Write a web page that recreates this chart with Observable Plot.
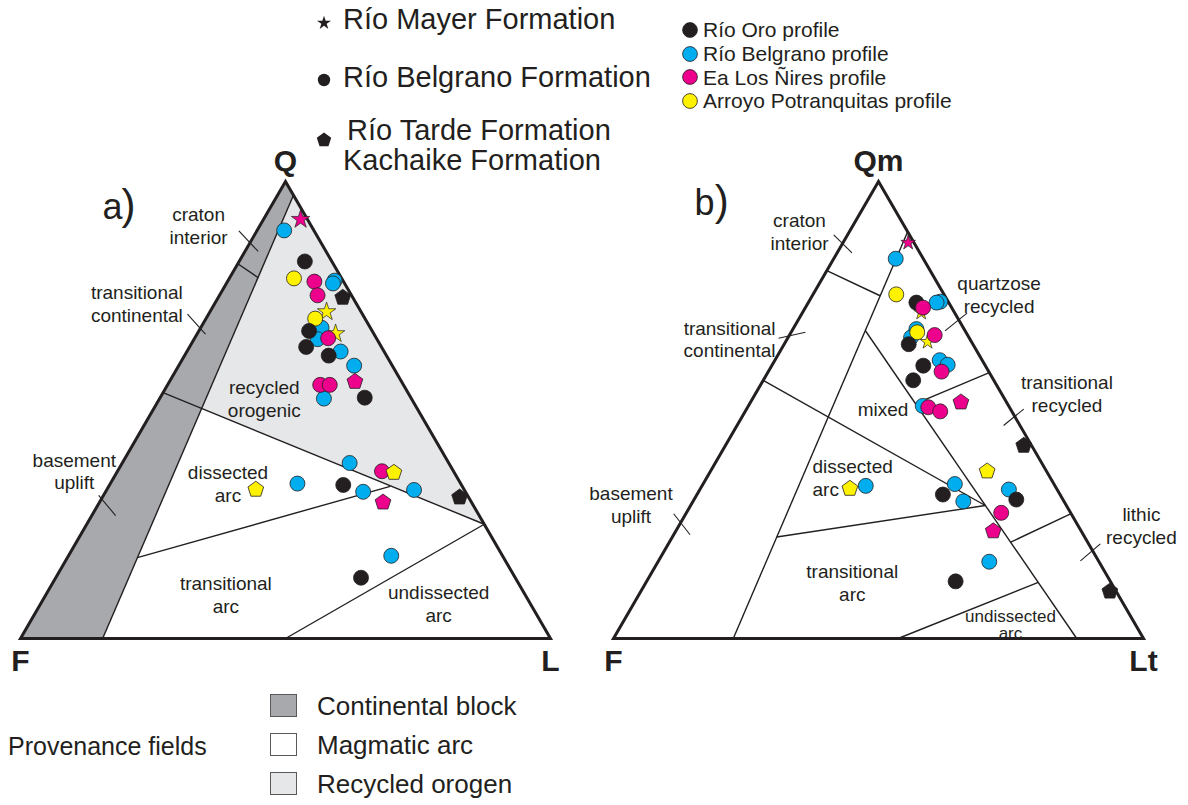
<!DOCTYPE html>
<html>
<head>
<meta charset="utf-8">
<script src="https://cdn.jsdelivr.net/npm/d3@7"></script>
<script src="https://cdn.jsdelivr.net/npm/@observablehq/plot@0.6"></script>
<style>
  html,body{margin:0;padding:0;background:#fff;}
  #fig{position:relative;width:1188px;height:805px;overflow:hidden;font-family:"Liberation Sans",Arial,Helvetica,sans-serif;color:#231f20;}
  #fig > svg{position:absolute;left:0;top:0;}
  .lg{position:absolute;white-space:pre;}
  .sym{position:absolute;overflow:visible;}
</style>
</head>
<body>
<div id="fig"></div>
<script>
// ---------------- data ----------------
const profiles = ["Río Oro profile", "Río Belgrano profile", "Ea Los Ñires profile", "Arroyo Potranquitas profile"];
const profileColors = ["#231f20", "#00aeef", "#ec008c", "#fff200"];
const formations = ["Río Mayer Formation", "Río Belgrano Formation", "Río Tarde Formation\nKachaike Formation"];
const formationSymbols = ["star", "circle", "pentagon"];
const provenanceFields = ["Continental block", "Magmatic arc", "Recycled orogen"];
const provenanceColors = ["#a7a9ac", "#ffffff", "#e6e7e8"];

// samples: [profile index, formation index, Q, F, L] in percent
const qflSamples = [
  [2,0,91.7,1.3,7.0],[1,1,89.3,5.6,5.1],[0,1,82.5,5.1,12.4],[3,1,78.8,9.0,12.2],
  [2,1,78.1,5.5,16.4],[1,1,78.3,1.6,20.1],[1,1,77.7,2.2,20.1],[2,1,75.1,6.4,18.5],
  [0,2,74.6,1.9,23.5],[3,0,71.5,6.5,22.0],[3,1,70.0,9.4,20.6],[3,0,66.7,7.2,26.1],
  [1,1,68.0,9.2,22.8],[0,1,67.3,11.9,20.8],[1,1,65.5,11.2,23.3],[2,1,65.7,9.1,25.2],
  [0,1,63.8,14.2,22.0],[1,1,62.8,8.2,29.0],[0,1,61.9,10.9,27.2],[1,1,59.7,7.2,33.1],
  [2,1,55.5,15.7,28.8],[2,1,55.5,13.9,30.6],[1,1,52.5,16.5,31.0],[2,2,56.2,8.8,35.0],
  [0,1,52.7,8.7,38.6],[1,1,38.4,18.7,42.9],[2,1,36.6,13.5,49.9],[3,2,36.3,11.4,52.3],
  [1,1,33.9,30.8,35.3],[0,1,33.6,22.3,44.1],[1,1,32.1,19.3,48.6],[2,2,29.8,16.7,53.5],
  [1,1,32.5,9.5,58.0],[0,2,30.9,1.7,67.4],[1,1,18.1,21.0,60.9],[0,1,13.3,29.1,57.6],
  [3,2,32.6,39.3,28.1]
];
// samples: [profile index, formation index, Qm, F, Lt] in percent
const qmfltSamples = [
  [2,0,86.6,1.1,12.3],[1,1,83.1,5.2,11.7],[3,1,75.3,9.0,15.7],[0,1,73.5,6.1,20.4],
  [1,1,73.7,1.5,24.8],[1,1,73.5,2.3,24.2],[2,1,72.4,5.4,22.2],[3,0,71.3,6.3,22.4],
  [1,1,67.7,9.0,23.3],[1,1,65.9,10.9,23.2],[3,1,67.0,9.2,23.8],[3,0,64.9,8.3,26.8],
  [0,1,64.4,12.1,23.5],[2,1,66.4,6.2,27.4],[0,1,59.7,11.7,28.6],[1,1,60.9,8.0,31.1],
  [1,1,59.9,7.0,33.1],[2,1,58.4,8.9,32.7],[0,1,56.5,15.2,28.3],[1,1,50.9,16.2,32.9],
  [2,1,50.6,15.3,34.1],[2,1,49.7,13.5,36.8],[2,2,51.7,8.6,39.7],[0,2,42.2,1.5,56.3],
  [3,2,36.6,11.2,52.2],[1,1,33.8,18.7,47.5],[0,1,31.5,22.1,46.4],[1,1,30.0,19.0,51.0],
  [1,1,32.6,9.1,58.3],[0,1,30.4,8.8,60.8],[2,1,27.5,13.1,59.4],[2,2,23.5,16.6,59.9],
  [1,1,16.8,20.7,62.5],[0,1,12.5,29.2,58.3],[0,2,10.3,1.2,88.5],[3,2,32.8,39.0,28.2],
  [1,1,33.4,35.7,30.9]
];

// field geometry (ternary percent [top, left, right])
const qflCorners = [["Q",100,0,0],["F",0,100,0],["L",0,0,100]];
const qmfltCorners = [["Qm",100,0,0],["F",0,100,0],["Lt",0,0,100]];
const qflContinentalBlock = [[100,0,0],[0,100,0],[0,84.5,15.5],[97,0,3]];
const qflRecycledOrogen = [[97,0,3],[50.3,40.7,9.0],[25,0,75]];
const qflBoundaries = [
  [[97,0,3],[0,84.5,15.5]],
  [[82,18,0],[79,15.7,5.3]],
  [[53.8,46.2,0],[25,0,75]],
  [[17.7,69.1,13.2],[33.3,13.6,53.1]],
  [[0,50,50],[25,0,75]]
];
const qmfltBoundaries = [
  [[89,0,11],[0,77.4,22.6]],
  [[80.5,19.5,0],[75,12.2,12.8]],
  [[56.5,43.5,0],[29.1,15.3,55.6]],
  [[67.4,18.8,13.8],[0,12.6,87.4]],
  [[58.2,0,41.8],[51.4,17.3,31.3]],
  [[27.3,0,72.7],[21.1,14.5,64.4]],
  [[22.2,58.1,19.7],[29.1,15.3,55.6]],
  [[0,46.3,53.7],[12.3,13.7,74.0]]
];
const qflLeaders = [
  [[89.2,14.2,-3.4],[84.7,12.8,2.5]],
  [[71.0,33.0,-4.0],[66.6,31.8,1.6]],
  [[31.3,69.6,-0.9],[26.9,68.6,4.5]]
];
const qmfltLeaders = [
  [[88.3,14.3,-2.6],[84.4,12.8,2.8]],
  [[65.7,36.0,-1.7],[67.0,30.3,2.7]],
  [[27.3,75.0,-2.3],[22.7,74.2,3.1]],
  [[71.2,-2.3,31.1],[67.3,3.8,28.9]],
  [[50.2,-2.5,52.3],[46.6,3.1,50.3]],
  [[20.7,-2.2,81.5],[17.0,3.4,79.6]]
];
const qflFieldLabels = [
  ["craton\ninterior",90.4,21.2,-11.6],
  ["transitional\ncontinental",73.3,41.4,-14.7],
  ["recycled\norogenic",52.6,27.7,19.7],
  ["basement\nuplift",36.7,71.5,-8.2],
  ["dissected\narc",33.9,43.9,22.2],
  ["transitional\narc",9.7,56.4,33.9],
  ["undissected\narc",7.8,17.2,75.0]
];
const qmfltFieldLabels = [
  ["craton\ninterior",89.2,20.3,-9.5],
  ["transitional\ncontinental",65.6,45.3,-10.9],
  ["quartzose\nrecycled",75.3,-10.4,35.1],
  ["mixed",50.3,24.0,25.7],
  ["transitional\nrecycled",53.7,-12.4,58.7],
  ["basement\nuplift",29.4,82.0,-11.4],
  ["transitional\narc",12.3,48.8,38.9],
  ["lithic\nrecycled",24.8,-12.0,87.2]
];
const qmfltLeftLabels = [["dissected\narc",35.3,44.8,19.9]];
const qmfltTightLabels = [["undissected\narc",3.0,23.6,73.4]];
const panelLetters = [["a","a",91.9,38.6,-30.5],["b","b",92.6,38.4,-31.0]];
const panelParens = [[")","a",91.9,35.0,-26.9],[")","b",92.6,34.6,-27.2]];

// ---------------- geometry helpers ----------------
const U = 530;          // px per unit along x
const UY = 527.7;       // px per unit along y
const SQ = Math.sqrt(3) / 2;
const panelOffset = {a: 0, b: 593 / U};
function tern(panel, t) {
  const s = t[0] + t[1] + t[2];
  const q = t[0] / s, l = t[2] / s;
  return {x: panelOffset[panel] + l + q / 2, y: q * SQ};
}
const pentagon = {
  draw(ctx, size) {
    const R = Math.sqrt(size / 2.3776);
    for (let i = 0; i < 5; i++) {
      const a = -Math.PI / 2 + i * 2 * Math.PI / 5;
      const x = R * Math.cos(a), y = R * Math.sin(a);
      i ? ctx.lineTo(x, y) : ctx.moveTo(x, y);
    }
    ctx.closePath();
  }
};
const symbolTypes = {star: d3.symbolStar, circle: d3.symbolCircle, pentagon};

const layerOrder = [1, 3, 0, 2]; // blue, yellow, black, magenta
const samples = [
  ...qflSamples.map(d => ({panel: "a", p: d[0], f: d[1], ...tern("a", d.slice(2))})),
  ...qmfltSamples.map(d => ({panel: "b", p: d[0], f: d[1], ...tern("b", d.slice(2))}))
].map(d => ({...d, profile: profiles[d.p], formation: formationSymbols[d.f]}));
const circles = samples.filter(d => d.formation === "circle")
  .sort((a, b) => layerOrder.indexOf(a.p) - layerOrder.indexOf(b.p));
const starsA = samples.filter(d => d.formation === "star" && d.panel === "a");
const starsB = samples.filter(d => d.formation === "star" && d.panel === "b");
const pentagons = samples.filter(d => d.formation === "pentagon");

const seg = (panel, list) => list.map(([s, e]) => {
  const a = tern(panel, s), b = tern(panel, e);
  return {x1: a.x, y1: a.y, x2: b.x, y2: b.y};
});
const boundaries = [...seg("a", qflBoundaries), ...seg("b", qmfltBoundaries)];
const leaders = [...seg("a", qflLeaders), ...seg("b", qmfltLeaders)];
const outline = [
  ...qflCorners.map(c => ({panel: "a", ...tern("a", c.slice(1))})),
  ...qmfltCorners.map(c => ({panel: "b", ...tern("b", c.slice(1))}))
];
const poly = (panel, list) => list.map(t => tern(panel, t));
const lab = (panel, list) => list.map(d => ({text: d[0], ...tern(panel, d.slice(1))}));
const topCorners = [
  {text: qflCorners[0][0], ...tern("a", qflCorners[0].slice(1))},
  {text: qmfltCorners[0][0], ...tern("b", qmfltCorners[0].slice(1))}
];
const bottomCorners = [
  ...qflCorners.slice(1).map(c => ({text: c[0], ...tern("a", c.slice(1))})),
  ...qmfltCorners.slice(1).map(c => ({text: c[0], ...tern("b", c.slice(1))}))
];
const letters = panelLetters.map(d => ({text: d[0], ...tern(d[1], d.slice(2))}));
const parens = panelParens.map(d => ({text: d[0], ...tern(d[1], d.slice(2))}));

const FONT = "Liberation Sans, Arial, Helvetica, sans-serif";
const INK = "#231f20";

const chart = Plot.plot({
  width: 1188, height: 805, margin: 0,
  x: {domain: [-20 / U, 1168 / U], range: [0, 1188], axis: null},
  y: {domain: [-167 / UY, 638 / UY], range: [805, 0], axis: null},
  color: {domain: profiles, range: profileColors},
  style: {fontFamily: FONT, background: "transparent", overflow: "visible"},
  marks: [
    Plot.line(poly("a", qflContinentalBlock), {x: "x", y: "y", fill: provenanceColors[0], stroke: "none", curve: "linear-closed"}),
    Plot.line(poly("a", qflRecycledOrogen), {x: "x", y: "y", fill: provenanceColors[2], stroke: "none", curve: "linear-closed"}),
    Plot.link(boundaries, {x1: "x1", y1: "y1", x2: "x2", y2: "y2", stroke: INK, strokeWidth: 1.4}),
    Plot.link(leaders, {x1: "x1", y1: "y1", x2: "x2", y2: "y2", stroke: INK, strokeWidth: 1.1}),
    Plot.line(outline, {x: "x", y: "y", z: "panel", stroke: INK, strokeWidth: 3, curve: "linear-closed", strokeLinejoin: "miter", strokeMiterlimit: 10}),
    Plot.text([...lab("a", qflFieldLabels), ...lab("b", qmfltFieldLabels)], {x: "x", y: "y", text: "text", fontSize: 19, lineHeight: 1.2, fill: INK, fontFamily: FONT}),
    Plot.text(lab("b", qmfltLeftLabels), {x: "x", y: "y", text: "text", fontSize: 19, lineHeight: 1.2, textAnchor: "start", fill: INK, fontFamily: FONT}),
    Plot.text(lab("b", qmfltTightLabels), {x: "x", y: "y", text: "text", fontSize: 17, lineHeight: 1.0, fill: INK, fontFamily: FONT}),
    Plot.text(topCorners, {x: "x", y: "y", text: "text", fontSize: 30, fontWeight: "bold", dy: -20, fill: INK, fontFamily: FONT}),
    Plot.text(bottomCorners, {x: "x", y: "y", text: "text", fontSize: 30, fontWeight: "bold", dy: 23, fill: INK, fontFamily: FONT}),
    Plot.text(letters, {x: "x", y: "y", text: "text", fontSize: 36, textAnchor: "start", lineAnchor: "bottom", fill: INK, fontFamily: FONT}),
    Plot.text(parens, {x: "x", y: "y", text: "text", fontSize: 42, fontWeight: 300, textAnchor: "start", lineAnchor: "bottom", fill: INK, fontFamily: FONT}),
    Plot.dot(starsA, {x: "x", y: "y", fill: "profile", symbol: d3.symbolStar, r: 5.8, stroke: INK, strokeWidth: 0.7}),
    Plot.dot(starsB, {x: "x", y: "y", fill: "profile", symbol: d3.symbolStar, r: 4.6, stroke: INK, strokeWidth: 0.7}),
    Plot.dot(circles, {x: "x", y: "y", fill: "profile", symbol: "circle", r: 7.5, stroke: INK, strokeWidth: 0.8}),
    Plot.dot(pentagons, {x: "x", y: "y", fill: "profile", symbol: pentagon, r: 7.2, stroke: INK, strokeWidth: 0.8})
  ]
});

const fig = document.getElementById("fig");
fig.append(chart);

// ---------------- legends (HTML overlays) ----------------
function addText(text, left, centerY, size, lh, extra = {}) {
  const d = document.createElement("div");
  d.className = "lg";
  d.textContent = text;
  Object.assign(d.style, {left: left + "px", top: (centerY - lh / 2) + "px", fontSize: size + "px", lineHeight: lh + "px"}, extra);
  fig.append(d);
}
function addSymbol(type, cx, cy, r, fill, sw) {
  const s = d3.create("svg").attr("class", "sym").attr("width", 40).attr("height", 40)
    .style("left", (cx - 20) + "px").style("top", (cy - 20) + "px");
  s.append("path").attr("transform", "translate(20,20)")
    .attr("d", d3.symbol(type, Math.PI * r * r)())
    .attr("fill", fill).attr("stroke", INK).attr("stroke-width", sw);
  fig.append(s.node());
}
// formations
const formationRows = [{cy: 19, sy: 23}, {cy: 77, sy: 80}, {cy: 130, sy: 140}];
const formationSymR = {star: 4.4, circle: 6.2, pentagon: 6.6};
formations.forEach((name, i) => {
  const sym = formationSymbols[i];
  addSymbol(symbolTypes[sym], 324, formationRows[i].sy, formationSymR[sym], INK, 0);
  addText(name, 343, formationRows[i].cy, 29, 30, name.includes("\n") ? {textIndent: "4px"} : {});
});
// profiles
profiles.forEach((name, i) => {
  const cy = 30 + i * 23.7;
  addSymbol(d3.symbolCircle, 690, cy, 7.4, profileColors[i], 0.8);
  addText(name, 703, cy, 21, 23.5);
});
// provenance fields
addText("Provenance fields", 8, 746, 25, 28);
provenanceFields.forEach((name, i) => {
  const cy = 706 + i * 38.8;
  const sw = document.createElement("div");
  Object.assign(sw.style, {position: "absolute", left: "270px", top: (cy - 12) + "px", width: "27px", height: "23px",
    background: provenanceColors[i], border: "1px solid #58595b", boxSizing: "border-box"});
  fig.append(sw);
  addText(name, 317, cy, 26, 30);
});
</script>
</body>
</html>
